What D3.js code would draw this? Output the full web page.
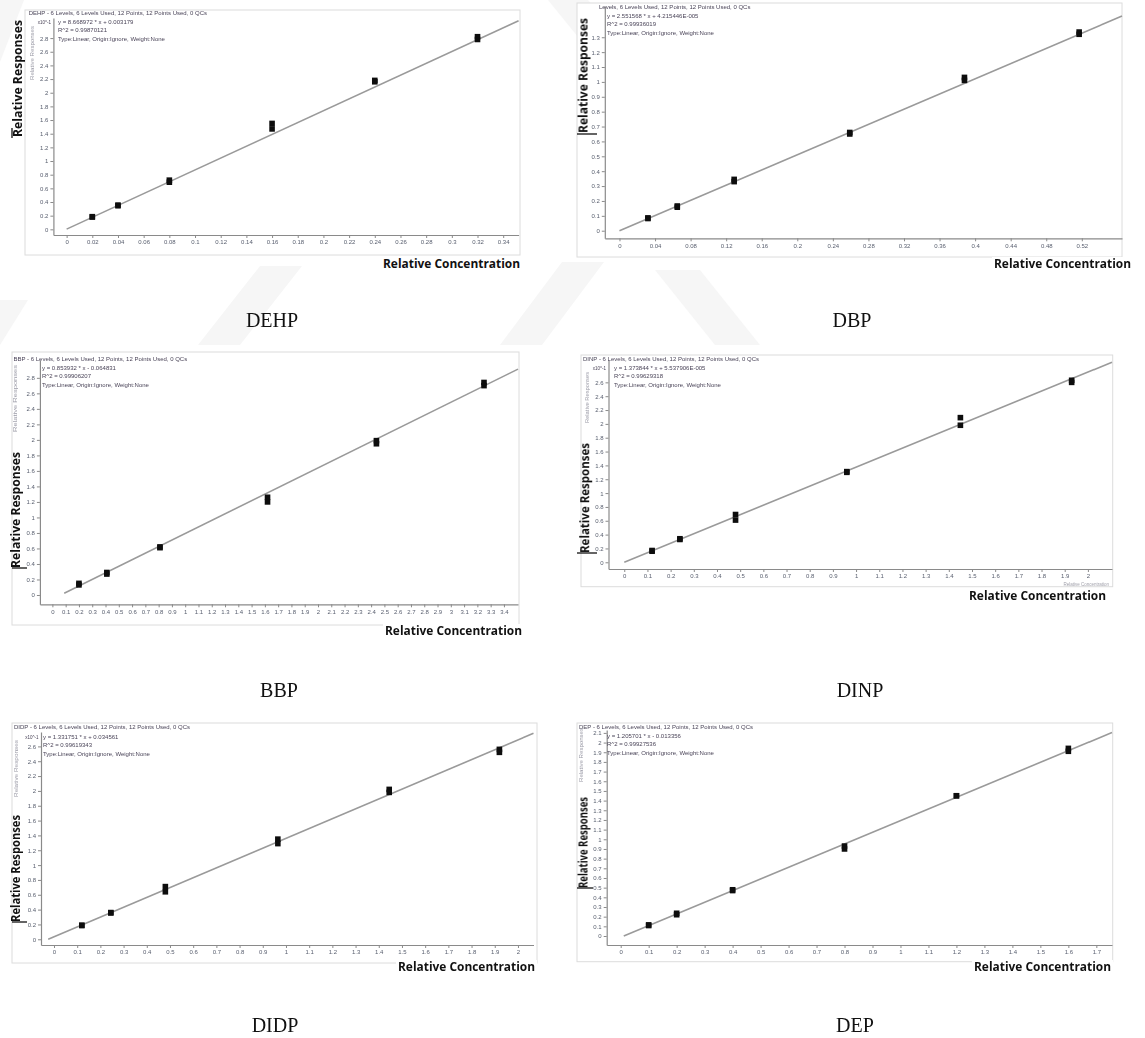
<!DOCTYPE html>
<html>
<head>
<meta charset="utf-8">
<script src="https://cdn.jsdelivr.net/npm/d3@7"></script>
<style>
    body { margin: 0; background: #fff; }
    svg { display: block; }
</style>
</head>
<body>
<div id="chart"></div>
<script>
///////////// Data /////////////

const panelNames = ["DEHP", "DBP", "BBP", "DINP", "DIDP", "DEP"];

// two replicate points per level, 6 levels
const dehpConc = [0.02, 0.02, 0.04, 0.04, 0.08, 0.08, 0.16, 0.16, 0.24, 0.24, 0.32, 0.32];
const dehpResp = [0.185, 0.18, 0.355, 0.345, 0.72, 0.69, 1.55, 1.47, 2.18, 2.16, 2.82, 2.78];
const dbpConc = [0.032, 0.032, 0.065, 0.065, 0.129, 0.129, 0.259, 0.259, 0.388, 0.388, 0.517, 0.517];
const dbpResp = [0.086, 0.082, 0.166, 0.158, 0.345, 0.33, 0.66, 0.65, 1.03, 1.01, 1.335, 1.32];
const bbpConc = [0.2, 0.2, 0.41, 0.41, 0.81, 0.81, 1.62, 1.62, 2.44, 2.44, 3.25, 3.25];
const bbpResp = [0.15, 0.13, 0.29, 0.27, 0.62, 0.61, 1.26, 1.2, 1.99, 1.95, 2.74, 2.7];
const dinpConc = [0.12, 0.12, 0.24, 0.24, 0.48, 0.48, 0.96, 0.96, 1.45, 1.45, 1.93, 1.93];
const dinpResp = [0.17, 0.16, 0.34, 0.33, 0.69, 0.61, 1.31, 1.3, 2.09, 1.98, 2.63, 2.6];
const didpConc = [0.12, 0.12, 0.245, 0.245, 0.48, 0.48, 0.965, 0.965, 1.445, 1.445, 1.92, 1.92];
const didpResp = [0.19, 0.185, 0.36, 0.355, 0.71, 0.64, 1.35, 1.29, 2.02, 1.98, 2.56, 2.52];
const depConc = [0.1, 0.1, 0.2, 0.2, 0.4, 0.4, 0.8, 0.8, 1.2, 1.2, 1.6, 1.6];
const depResp = [0.115, 0.108, 0.235, 0.22, 0.478, 0.47, 0.93, 0.9, 1.45, 1.45, 1.94, 1.91];

// fitted line: y = slope * x + intercept, drawn from fitStart to right edge
const fitSlopes = [8.669, 2.5516, 0.846, 1.374, 1.3275, 1.2057];
const fitIntercepts = [0.003, 0, -0.054, 0, 0.033, -0.0134];
const fitStart = [0, 0, 0.089, 0, -0.025, 0.011];

// tick labels
const dehpXTicks = [0, 0.02, 0.04, 0.06, 0.08, 0.1, 0.12, 0.14, 0.16, 0.18, 0.2, 0.22, 0.24, 0.26, 0.28, 0.3, 0.32, 0.34];
const dbpXTicks = [0, 0.04, 0.08, 0.12, 0.16, 0.2, 0.24, 0.28, 0.32, 0.36, 0.4, 0.44, 0.48, 0.52];
const bbpXTicks = [0, 0.1, 0.2, 0.3, 0.4, 0.5, 0.6, 0.7, 0.8, 0.9, 1, 1.1, 1.2, 1.3, 1.4, 1.5, 1.6, 1.7,
    1.8, 1.9, 2, 2.1, 2.2, 2.3, 2.4, 2.5, 2.6, 2.7, 2.8, 2.9, 3, 3.1, 3.2, 3.3, 3.4];
const dinpXTicks = [0, 0.1, 0.2, 0.3, 0.4, 0.5, 0.6, 0.7, 0.8, 0.9, 1, 1.1, 1.2, 1.3, 1.4, 1.5, 1.6, 1.7, 1.8, 1.9, 2];
const didpXTicks = [0, 0.1, 0.2, 0.3, 0.4, 0.5, 0.6, 0.7, 0.8, 0.9, 1, 1.1, 1.2, 1.3, 1.4, 1.5, 1.6, 1.7, 1.8, 1.9, 2];
const depXTicks = [0, 0.1, 0.2, 0.3, 0.4, 0.5, 0.6, 0.7, 0.8, 0.9, 1, 1.1, 1.2, 1.3, 1.4, 1.5, 1.6, 1.7];

const dehpYTicks = [0, 0.2, 0.4, 0.6, 0.8, 1, 1.2, 1.4, 1.6, 1.8, 2, 2.2, 2.4, 2.6, 2.8];
const dbpYTicks = [0, 0.1, 0.2, 0.3, 0.4, 0.5, 0.6, 0.7, 0.8, 0.9, 1, 1.1, 1.2, 1.3];
const bbpYTicks = [0, 0.2, 0.4, 0.6, 0.8, 1, 1.2, 1.4, 1.6, 1.8, 2, 2.2, 2.4, 2.6, 2.8];
const dinpYTicks = [0, 0.2, 0.4, 0.6, 0.8, 1, 1.2, 1.4, 1.6, 1.8, 2, 2.2, 2.4, 2.6];
const didpYTicks = [0, 0.2, 0.4, 0.6, 0.8, 1, 1.2, 1.4, 1.6, 1.8, 2, 2.2, 2.4, 2.6];
const depYTicks = [0, 0.1, 0.2, 0.3, 0.4, 0.5, 0.6, 0.7, 0.8, 0.9, 1, 1.1, 1.2, 1.3, 1.4, 1.5, 1.6, 1.7, 1.8, 1.9, 2, 2.1];

// header lines of each plot (software printout)
const headerTitles = [
    "DEHP - 6 Levels, 6 Levels Used, 12 Points, 12 Points Used, 0 QCs",
    "Levels, 6 Levels Used, 12 Points, 12 Points Used, 0 QCs",
    "BBP - 6 Levels, 6 Levels Used, 12 Points, 12 Points Used, 0 QCs",
    "DINP - 6 Levels, 6 Levels Used, 12 Points, 12 Points Used, 0 QCs",
    "DIDP - 6 Levels, 6 Levels Used, 12 Points, 12 Points Used, 0 QCs",
    "DEP - 6 Levels, 6 Levels Used, 12 Points, 12 Points Used, 0 QCs"
];
const headerEquations = [
    "y = 8.668972 * x + 0.003179",
    "y = 2.551568 * x + 4.215446E-005",
    "y = 0.853932 * x - 0.064831",
    "y = 1.373844 * x + 5.537906E-005",
    "y = 1.331751 * x + 0.034561",
    "y = 1.205701 * x - 0.013356"
];
const headerR2 = ["R^2 = 0.99870121", "R^2 = 0.99936019", "R^2 = 0.99906207",
    "R^2 = 0.99629318", "R^2 = 0.99619343", "R^2 = 0.99927536"];
const headerType = "Type:Linear, Origin:Ignore, Weight:None";

const concs = [dehpConc, dbpConc, bbpConc, dinpConc, didpConc, depConc];
const resps = [dehpResp, dbpResp, bbpResp, dinpResp, didpResp, depResp];
const xTicks = [dehpXTicks, dbpXTicks, bbpXTicks, dinpXTicks, didpXTicks, depXTicks];
const yTicks = [dehpYTicks, dbpYTicks, bbpYTicks, dinpYTicks, didpYTicks, depYTicks];

///////////// Layout of the six pictures /////////////
// box = outer frame, plot = [left, top, right, bottom], domains = visible axis range
const layouts = [
    { box: [25, 10, 520, 255], plot: [53.4, 18, 518.6, 235], xDom: [-0.0103, 0.352], yDom: [-0.083, 3.094],
      xLab: [520, 268], yLab: [17.6, 20, 137], cursor: [[12, 128], [12, 138]], title: [28.7, 12.5], eq: [58, 22],
      tiny: [32, 26, 80], exp: [51, 22], caption: [272, 327] },
    { box: [577, 3, 1122, 257], plot: [604.8, 6, 1122, 238.3], xDom: [-0.0165, 0.5652], yDom: [-0.051, 1.51],
      xLab: [1131, 268], yLab: [583, 18, 133], cursor: [[577, 134], [597, 134]], title: [599, 7], eq: [607, 16],
      tiny: null, exp: null, caption: [852, 327] },
    { box: [12, 352, 519, 625], plot: [39.9, 360, 518, 604.3], xDom: [-0.094, 3.506], yDom: [-0.12, 3.03],
      xLab: [522, 635], yLab: [15, 452, 568], cursor: [[12, 568], [27, 568]], title: [13.5, 359], eq: [42, 368],
      tiny: [15, 365, 432], exp: null, caption: [279, 697] },
    { box: [581, 355, 1112.7, 586.7], plot: [608.5, 360, 1112, 569], xDom: [-0.068, 2.104], yDom: [-0.097, 2.923],
      xLab: [1106, 599.5], yLab: [584.7, 443, 553], cursor: [[577, 553], [597, 553]], title: [583, 359], eq: [614, 368],
      tiny: [586.5, 372, 423], exp: [606, 368], caption: [860, 697] },
    { box: [12, 723, 537, 963], plot: [41, 732, 533.5, 945], xDom: [-0.056, 2.067], yDom: [-0.077, 2.794],
      xLab: [535, 971], yLab: [15.6, 815, 922], cursor: [[12, 922], [27, 922]], title: [14, 727], eq: [43, 737],
      tiny: [15.6, 740, 797], exp: [38.5, 737], caption: [275, 1032] },
    { box: [577, 723, 1112.7, 961.7], plot: [606.7, 730, 1112, 945], xDom: [-0.05, 1.756], yDom: [-0.093, 2.13],
      xLab: [1111, 971], yLab: [583, 797, 888], cursor: [[577, 888], [593, 888]], title: [579, 727], eq: [607, 736],
      tiny: [581, 728, 782], exp: null, caption: [855, 1032] }
];

// faint watermark pieces showing between the pictures
const watermark = [
    [[0, 0], [24, 0], [0, 62]],
    [[548, 0], [588, 0], [640, 64], [600, 64]],
    [[198, 345], [240, 345], [302, 266], [260, 266]],
    [[500, 345], [542, 345], [604, 262], [562, 262]],
    [[0, 300], [28, 300], [0, 345]],
    [[655, 270], [700, 270], [760, 345], [715, 345]]
];

const width = 1145, height = 1038;

let svg = d3
    .select("#chart")
    .append("svg")
    .attr("width", width)
    .attr("height", height);

//soft blur, the printout in the reference is a scanned screenshot
svg.append("defs")
    .append("filter")
    .attr("id", "soft")
    .append("feGaussianBlur")
    .attr("stdDeviation", 0.45);

svg.append("g")
    .selectAll("path")
    .data(watermark)
    .enter()
    .append("path")
    .attr("d", (d) => d3.line()(d) + "Z")
    .attr("fill", "#f6f6f6");

const smallFont = "'Liberation Sans', Arial, sans-serif";
const boldFont = "'Open Sans', 'Liberation Sans', sans-serif";

layouts.forEach((lay, i) => {
    const [l, t, r, b] = lay.plot;
    const x = d3.scaleLinear().domain(lay.xDom).range([l, r]);
    const y = d3.scaleLinear().domain(lay.yDom).range([b, t]);

    let g = svg.append("g").attr("class", "panel");

    //outer frame
    g.append("rect")
        .attr("x", lay.box[0])
        .attr("y", lay.box[1])
        .attr("width", lay.box[2] - lay.box[0])
        .attr("height", lay.box[3] - lay.box[1])
        .attr("fill", "#fff")
        .attr("stroke", "#dcdcdc");

    let inner = g.append("g").attr("filter", "url(#soft)");

    //axes
    let xAxis = inner
        .append("g")
        .attr("transform", `translate(0,${b})`)
        .call(d3.axisBottom(x).tickValues(xTicks[i]).tickSize(3).tickSizeOuter(0).tickPadding(2).tickFormat((d) => d));
    let yAxis = inner
        .append("g")
        .attr("transform", `translate(${l},0)`)
        .call(d3.axisLeft(y).tickValues(yTicks[i]).tickSize(3).tickSizeOuter(0).tickPadding(2).tickFormat((d) => d));
    [xAxis, yAxis].forEach((a) => {
        a.select(".domain").attr("stroke", "#8a8a8a").attr("stroke-width", 1.2);
        a.selectAll(".tick line").attr("stroke", "#8a8a8a");
        a.selectAll(".tick text")
            .attr("fill", "#5a6070")
            .style("font-family", smallFont)
            .style("font-size", "6px");
    });

    //fitted calibration line
    const x1 = lay.xDom[1];
    inner.append("path")
        .attr("d", d3.line()([
            [x(fitStart[i]), y(fitSlopes[i] * fitStart[i] + fitIntercepts[i])],
            [x(x1), y(fitSlopes[i] * x1 + fitIntercepts[i])]
        ]))
        .attr("stroke", "#9a9a9a")
        .attr("stroke-width", 1.6)
        .attr("fill", "none");

    //calibration points
    inner.selectAll("rect.pt")
        .data(concs[i].map((c, k) => [c, resps[i][k]]))
        .enter()
        .append("rect")
        .attr("class", "pt")
        .attr("x", (d) => x(d[0]) - 2.8)
        .attr("y", (d) => y(d[1]) - 2.8)
        .attr("width", 5.6)
        .attr("height", 5.6)
        .attr("fill", "#111");

    //header text block
    let head = inner.append("g")
        .style("font-family", smallFont)
        .style("font-size", "6px")
        .attr("fill", "#4a4458");
    head.append("text").attr("x", lay.title[0]).attr("y", lay.title[1] + 2).text(headerTitles[i]);
    [headerEquations[i], headerR2[i], headerType].forEach((s, k) => {
        head.append("text")
            .attr("x", lay.eq[0])
            .attr("y", lay.eq[1] + 2 + k * 8.3)
            .text(s);
    });
    if (lay.exp) {
        head.append("text")
            .attr("x", lay.exp[0])
            .attr("y", lay.exp[1] + 2)
            .attr("text-anchor", "end")
            .style("font-size", "4.5px")
            .text("x10^-1");
    }
    //the tiny grey axis title of the software
    if (lay.tiny) {
        head.append("text")
            .attr("transform", `translate(${lay.tiny[0] + 2},${lay.tiny[2]}) rotate(-90)`)
            .attr("textLength", lay.tiny[2] - lay.tiny[1])
            .attr("lengthAdjust", "spacingAndGlyphs")
            .attr("fill", "#9a9aa6")
            .style("font-size", "5px")
            .text("Relative Responses");
    }
    if (i === 3) {
        head.append("text")
            .attr("x", 1109)
            .attr("y", 585.5)
            .attr("text-anchor", "end")
            .attr("fill", "#a0a0aa")
            .style("font-size", "4.5px")
            .text("Relative Concentration");
    }

    //bold axis titles pasted on top
    const labW = 137;
    g.append("rect")
        .attr("x", lay.xLab[0] - labW - 2)
        .attr("y", lay.xLab[1] - 11)
        .attr("width", labW + 4)
        .attr("height", 15)
        .attr("fill", "#fff");
    g.append("text")
        .attr("x", lay.xLab[0])
        .attr("y", lay.xLab[1])
        .attr("text-anchor", "end")
        .attr("textLength", labW)
        .attr("lengthAdjust", "spacingAndGlyphs")
        .style("font-family", boldFont)
        .style("font-weight", "bold")
        .style("font-size", "12.5px")
        .attr("fill", "#111")
        .text("Relative Concentration");

    g.append("text")
        .attr("transform", `translate(${lay.yLab[0] + 4.5},${lay.yLab[2]}) rotate(-90)`)
        .attr("textLength", lay.yLab[2] - lay.yLab[1])
        .attr("lengthAdjust", "spacingAndGlyphs")
        .style("font-family", boldFont)
        .style("font-weight", "bold")
        .style("font-size", "12.5px")
        .attr("fill", "#111")
        .text("Relative Responses");

    //the stray text cursor mark beside the y title
    g.append("path")
        .attr("d", d3.line()(lay.cursor))
        .attr("stroke", "#111")
        .attr("stroke-width", 1.3);

    //caption under each picture
    svg.append("text")
        .attr("x", lay.caption[0])
        .attr("y", lay.caption[1])
        .attr("text-anchor", "middle")
        .style("font-family", "'Liberation Serif', 'Times New Roman', serif")
        .style("font-size", "20px")
        .attr("fill", "#111")
        .text(panelNames[i]);
});
</script>
</body>
</html>
